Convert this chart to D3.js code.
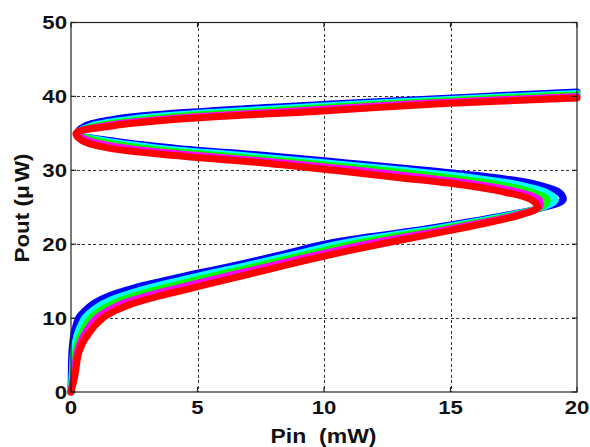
<!DOCTYPE html>
<html>
<head>
<meta charset="utf-8">
<script src="https://cdn.jsdelivr.net/npm/d3@7/dist/d3.min.js"></script>
<style>
  html, body { margin: 0; padding: 0; background: #fff; }
  svg { display: block; }
</style>
</head>
<body>
<svg id="chart" width="590" height="447"></svg>
<script>
// Axis ticks
const xTicks = [0, 5, 10, 15, 20];
const yTicks = [0, 10, 20, 30, 40, 50];

// Bistable transfer curves, each point is [Pout (µW), Pin (mW)]
const curveBlue = [
  [0, 0], [1, 0.005], [2, 0.01], [3, 0.015], [4, 0.02], [5, 0.03], [6, 0.05], [7, 0.08],
  [8, 0.12], [9, 0.2], [10, 0.3], [11, 0.55], [12, 0.9], [13, 1.5], [14, 2.4], [15, 3.6],
  [16, 4.9], [17, 6.3], [18, 7.6], [19, 8.8], [20, 10.0], [21, 11.8], [22, 13.9], [23, 15.7],
  [24, 17.3], [25, 18.7], [26, 19.45], [27, 19.3], [28, 18.5], [29, 16.8], [30, 14.0],
  [31, 10.9], [32, 7.7], [33, 4.1], [34, 1.6], [35, 0.25], [36, 0.55], [37, 1.9], [38, 5.3],
  [39, 10.5], [40, 16.3], [40.6, 20]
];
const curveCyan = [
  [0, 0], [1, 0.02], [2, 0.04], [3, 0.06], [4, 0.07], [5, 0.09], [6, 0.13], [7, 0.19],
  [8, 0.27], [9, 0.39], [10, 0.54], [11, 0.85], [12, 1.29], [13, 2.0], [14, 2.98], [15, 4.18],
  [16, 5.45], [17, 6.8], [18, 8.08], [19, 9.3], [20, 10.55], [21, 12.28], [22, 14.23], [23, 15.93],
  [24, 17.43], [25, 18.64], [26, 19.14], [27, 18.78], [28, 17.75], [29, 15.85], [30, 13.1],
  [31, 10.08], [32, 6.8], [33, 3.45], [34, 1.3], [35, 0.24], [36, 0.8], [37, 2.58], [38, 6.43],
  [39, 11.53], [40, 17.5], [40.4, 20]
];
const curveGreen = [
  [0, 0], [1, 0.04], [2, 0.08], [3, 0.10], [4, 0.13], [5, 0.16], [6, 0.22], [7, 0.30],
  [8, 0.42], [9, 0.58], [10, 0.78], [11, 1.15], [12, 1.68], [13, 2.5], [14, 3.55], [15, 4.75],
  [16, 6.0], [17, 7.3], [18, 8.55], [19, 9.8], [20, 11.1], [21, 12.75], [22, 14.55], [23, 16.15],
  [24, 17.55], [25, 18.58], [26, 18.83], [27, 18.25], [28, 17.0], [29, 14.9], [30, 12.2],
  [31, 9.25], [32, 5.9], [33, 2.8], [34, 1.0], [35, 0.22], [36, 1.05], [37, 3.25], [38, 7.55],
  [39, 12.55], [40, 18.6], [40.2, 20]
];
const curveMagenta = [
  [0, 0], [1, 0.05], [2, 0.11], [3, 0.15], [4, 0.18], [5, 0.22], [6, 0.30], [7, 0.41],
  [8, 0.57], [9, 0.76], [10, 1.01], [11, 1.45], [12, 2.06], [13, 3.0], [14, 4.13], [15, 5.33],
  [16, 6.55], [17, 7.8], [18, 9.03], [19, 10.3], [20, 11.65], [21, 13.23], [22, 14.88], [23, 16.38],
  [24, 17.68], [25, 18.51], [26, 18.51], [27, 17.73], [28, 16.25], [29, 13.95], [30, 11.3],
  [31, 8.43], [32, 5.0], [33, 2.15], [34, 0.7], [35, 0.21], [36, 1.3], [37, 3.93], [38, 8.68],
  [39, 13.58], [40, 20]
];
const curveRed = [
  [0, 0], [1, 0.07], [2, 0.14], [3, 0.19], [4, 0.23], [5, 0.28], [6, 0.38], [7, 0.52],
  [8, 0.72], [9, 0.95], [10, 1.25], [11, 1.75], [12, 2.45], [13, 3.5], [14, 4.7], [15, 5.9],
  [16, 7.1], [17, 8.3], [18, 9.5], [19, 10.8], [20, 12.2], [21, 13.7], [22, 15.2], [23, 16.6],
  [24, 17.8], [25, 18.45], [26, 18.2], [27, 17.2], [28, 15.5], [29, 13.0], [30, 10.4],
  [31, 7.6], [32, 4.1], [33, 1.5], [34, 0.45], [35, 0.2], [36, 1.6], [37, 4.6], [38, 9.8],
  [39, 14.6], [39.8, 20]
];

const seriesColors = ["#0000ff", "#00ffff", "#00ff00", "#ff00ff", "#ff0000"];
const curves = [curveBlue, curveCyan, curveGreen, curveMagenta, curveRed];

const svg = d3.select("#chart");
const x = d3.scaleLinear().domain([0, 20]).range([71, 577]);
const y = d3.scaleLinear().domain([0, 50]).range([392, 22.5]);
const [x0, x1] = x.range();
const [y0, y1] = y.range();

// Dashed grid
const grid = svg.append("g")
  .attr("stroke", "#333")
  .attr("stroke-width", 1)
  .attr("stroke-dasharray", "3,2.5")
  .attr("shape-rendering", "crispEdges");
grid.selectAll("line.gx").data(xTicks.slice(1, -1)).join("line")
  .attr("class", "gx")
  .attr("x1", d => Math.round(x(d)) + 0.5).attr("x2", d => Math.round(x(d)) + 0.5)
  .attr("y1", y1).attr("y2", y0);
grid.selectAll("line.gy").data(yTicks.slice(1, -1)).join("line")
  .attr("class", "gy")
  .attr("x1", x0).attr("x2", x1)
  .attr("y1", d => Math.round(y(d)) + 0.5).attr("y2", d => Math.round(y(d)) + 0.5);

// Curves, blue first so red ends up on top
const line = d3.line()
  .x(d => x(d[1]))
  .y(d => y(d[0]))
  .curve(d3.curveCatmullRom.alpha(0.5));

svg.append("g").selectAll("path").data(curves).join("path")
  .attr("d", line)
  .attr("fill", "none")
  .attr("stroke", (d, i) => seriesColors[i])
  .attr("stroke-width", 7)
  .attr("stroke-linecap", "round")
  .attr("stroke-linejoin", "round");

// Axes box with inward ticks
const axes = svg.append("g")
  .attr("stroke", "#222")
  .attr("stroke-width", 1.2)
  .attr("fill", "none");
axes.append("rect")
  .attr("x", x0).attr("y", y1)
  .attr("width", x1 - x0).attr("height", y0 - y1);
const tickLen = 5;
xTicks.forEach(t => {
  axes.append("line").attr("x1", x(t)).attr("x2", x(t)).attr("y1", y0).attr("y2", y0 - tickLen);
  axes.append("line").attr("x1", x(t)).attr("x2", x(t)).attr("y1", y1).attr("y2", y1 + tickLen);
});
yTicks.forEach(t => {
  axes.append("line").attr("x1", x0).attr("x2", x0 + tickLen).attr("y1", y(t)).attr("y2", y(t));
  axes.append("line").attr("x1", x1).attr("x2", x1 - tickLen).attr("y1", y(t)).attr("y2", y(t));
});

// Text helper: bold, slightly widened glyphs
const font = "'Liberation Sans', Arial, sans-serif";
function label(g, text, anchor, size, sx) {
  return g.append("text")
    .attr("transform", `scale(${sx},1)`)
    .attr("text-anchor", anchor)
    .attr("font-family", font)
    .attr("font-weight", "bold")
    .attr("font-size", size)
    .attr("fill", "#111")
    .text(text);
}

// Tick labels
xTicks.forEach(t => {
  const g = svg.append("g").attr("transform", `translate(${x(t)},414)`);
  label(g, d3.format("d")(t), "middle", 18.5, 1.2);
});
yTicks.forEach(t => {
  const g = svg.append("g").attr("transform", `translate(67,${y(t) + 6.6})`);
  label(g, d3.format("d")(t), "end", 18.5, 1.2);
});

// Axis titles
const gx = svg.append("g").attr("transform", `translate(323.5,443)`);
label(gx, "Pin\u00a0\u00a0(mW)", "middle", 20, 1.15);

const gy = svg.append("g").attr("transform", `translate(28.5,208) rotate(-90)`);
const yt = label(gy, null, "middle", 20, 1.12);
yt.append("tspan").text("Pout (");
yt.append("tspan").text("\u03bc");
yt.append("tspan").attr("dx", 3).text("W)");
</script>
</body>
</html>
